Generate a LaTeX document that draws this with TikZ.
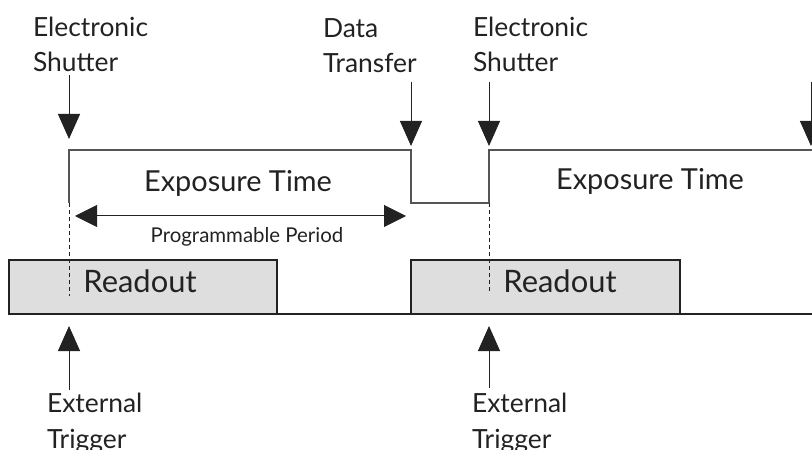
\documentclass[tikz,border=0pt]{standalone}
\usepackage{fontspec}
\setmainfont{Lato}
\usetikzlibrary{arrows.meta}

\definecolor{ink}{HTML}{222222}
\definecolor{sigline}{HTML}{555555}
\definecolor{boxfill}{HTML}{DEDEDE}

\begin{document}
\begin{tikzpicture}[x=1bp, y=-1bp,
  every node/.style={text=ink, inner sep=0pt, outer sep=0pt},
  % two-line labels: the base anchor sits on the second line
  lbl/.style={align=left, anchor=base west, font=\fontsize{26.5}{35.5}\selectfont},
  bigtext/.style={anchor=base, font=\fontsize{29}{34}\selectfont},
  rotext/.style={anchor=base, font=\fontsize{31}{34}\selectfont},
  smalltext/.style={anchor=base, font=\fontsize{20.5}{24}\selectfont},
  sig/.style={draw=sigline, line width=1.5bp, line join=miter},
  guide/.style={draw=ink, line width=0.9bp, dash pattern=on 4bp off 3bp},
  rdbox/.style={draw=ink, fill=boxfill, line width=1.6bp, anchor=north west},
  arr/.style={draw=ink, line width=1bp, -{Triangle[length=25bp, width=22bp]}},
  dblarr/.style={draw=ink, line width=1bp, {Triangle[length=22bp, width=22bp]}-{Triangle[length=22bp, width=22bp]}}
]
\useasboundingbox (0,0) rectangle (812,450);
\clip (0,0) rectangle (812,450);

% key points on the exposure signal
\coordinate (rise1) at (69,150);
\coordinate (fall1) at (411,150);
\coordinate (low1)  at (411,203);
\coordinate (low2)  at (489,203);
\coordinate (rise2) at (489,150);
\coordinate (sigend) at (812,150);
\coordinate (foot1) at (69,203);

% readout blocks and the base line
\node[rdbox, minimum width=268bp, minimum height=54bp] (rb1) at (9,260) {};
\node[rdbox, minimum width=269bp, minimum height=54bp] (rb2) at (411,260) {};
\coordinate (baseR) at (812,314);
\draw[draw=ink, line width=1.6bp] (rb1.south east) -- (rb2.south west);
\draw[draw=ink, line width=1.6bp] (rb2.south east) -- (baseR);

% exposure signal
\draw[sig] (foot1) -- (rise1) -- (fall1) -- (low1) -- (low2) -- (rise2) -- (sigend);

% trigger guide lines
\coordinate (trig1) at (69,296);
\coordinate (trig2) at (489,292);
\draw[guide] (foot1) -- (trig1);
\draw[guide] (low2) -- (trig2);

% texts inside the timing diagram
\node[bigtext] (exp1) at (238,192) {Exposure Time};
\node[bigtext] (exp2) at (650,190) {Exposure Time};
\node[rotext] (ro1) at (140,293) {Readout};
\node[rotext] (ro2) at (560,293) {Readout};

% programmable period
\coordinate (pp1) at (75,216);
\coordinate (pp2) at (406,216);
\draw[dblarr] (pp1) -- (pp2);
\node[smalltext] (ppl) at (247,243) {Programmable Period};

% labels above
\node[lbl] (es1) at (33,72) {Electronic\\Shutter};
\node[lbl] (dt) at (323,73) {Data\\Transfer};
\node[lbl] (es2) at (473,72) {Electronic\\Shutter};

% labels below
\node[lbl] (et1) at (47,448) {External\\Trigger};
\node[lbl] (et2) at (472,448) {External\\Trigger};

% arrow tails and tips
\coordinate (t1) at (69,75);   \coordinate (h1) at (69,139);
\coordinate (t2) at (411,82);  \coordinate (h2) at (411,146);
\coordinate (t3) at (489,82);  \coordinate (h3) at (489,146);
\coordinate (t4) at (811,82);  \coordinate (h4) at (811,146);
\coordinate (u1) at (69,390);  \coordinate (g1) at (69,326);
\coordinate (u2) at (489,388); \coordinate (g2) at (489,326);

\draw[arr] (t1) -- (h1);
\draw[arr] (t2) -- (h2);
\draw[arr] (t3) -- (h3);
\draw[arr] (t4) -- (h4);
\draw[arr] (u1) -- (g1);
\draw[arr] (u2) -- (g2);
\end{tikzpicture}
\end{document}
